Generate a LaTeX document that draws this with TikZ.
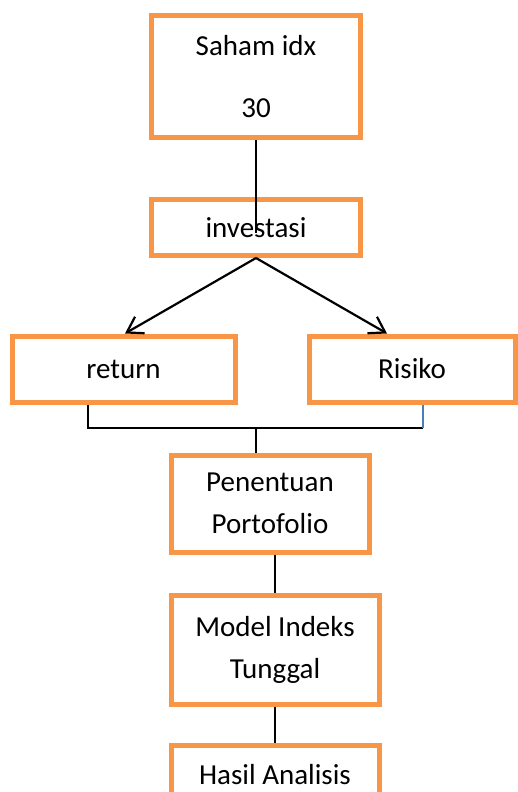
\documentclass[tikz,border=0pt]{standalone}
\usepackage{fontspec}
\setmainfont{Carlito}
\usetikzlibrary{arrows.meta}
\definecolor{boxorange}{HTML}{F79646}
\definecolor{lineblue}{HTML}{4A7EBB}
\begin{document}
\begin{tikzpicture}[x=1pt,y=-1pt,
  box/.style={draw=boxorange,line width=5pt,fill=white,inner sep=0pt,align=center,
    font=\fontsize{29}{42}\selectfont},
  conn/.style={draw=black,line width=1.5pt},
  arr/.style={draw=black,line width=2.2pt,-{Straight Barb[length=15pt,width=19pt,line width=2.2pt]}}
]
\useasboundingbox (0,0) rectangle (518,792);
\fill[white] (0,0) rectangle (518,792);
\node[box,minimum width=209pt,minimum height=122pt] (saham) at (256,76.5) {Saham idx\\[20pt]30};
\node[box,minimum width=209pt,minimum height=56pt] (inv) at (256,227.5) {investasi};
\node[box,minimum width=223pt,minimum height=66pt] (ret) at (123.5,369) {return};
\node[box,minimum width=206pt,minimum height=66pt] (ris) at (412,369) {Risiko};
\node[box,minimum width=198pt,minimum height=97pt] (pen) at (270,503.5) {Penentuan\\Portofolio};
\node[box,minimum width=208pt,minimum height=109pt] (mod) at (275,649.5) {Model Indeks\\Tunggal};
\node[box,minimum width=208pt,minimum height=60pt] (has) at (275,775) {Hasil Analisis};
% connectors
\coordinate (invin) at (256,233);
\draw[conn] (saham.south) -- (invin);
\coordinate (retin) at (125,333.5);
\coordinate (risin) at (387,333.5);
\draw[arr] (inv.south) -- (retin);
\draw[arr] (inv.south) -- (risin);
\coordinate (rb) at (88,404.5);
\coordinate (c1) at (88,428);
\coordinate (c2) at (423,428);
\coordinate (kb) at (423,404.5);
\coordinate (j) at (256,428);
\draw[conn] (rb) -- (c1) -- (c2);
\draw[conn,draw=lineblue] (c2) -- (kb);
\draw[conn] (j) -- (pen.north -| j);
\draw[conn] (pen.south -| mod.north) -- (mod.north);
\draw[conn] (mod.south) -- (has.north);
\end{tikzpicture}
\end{document}
